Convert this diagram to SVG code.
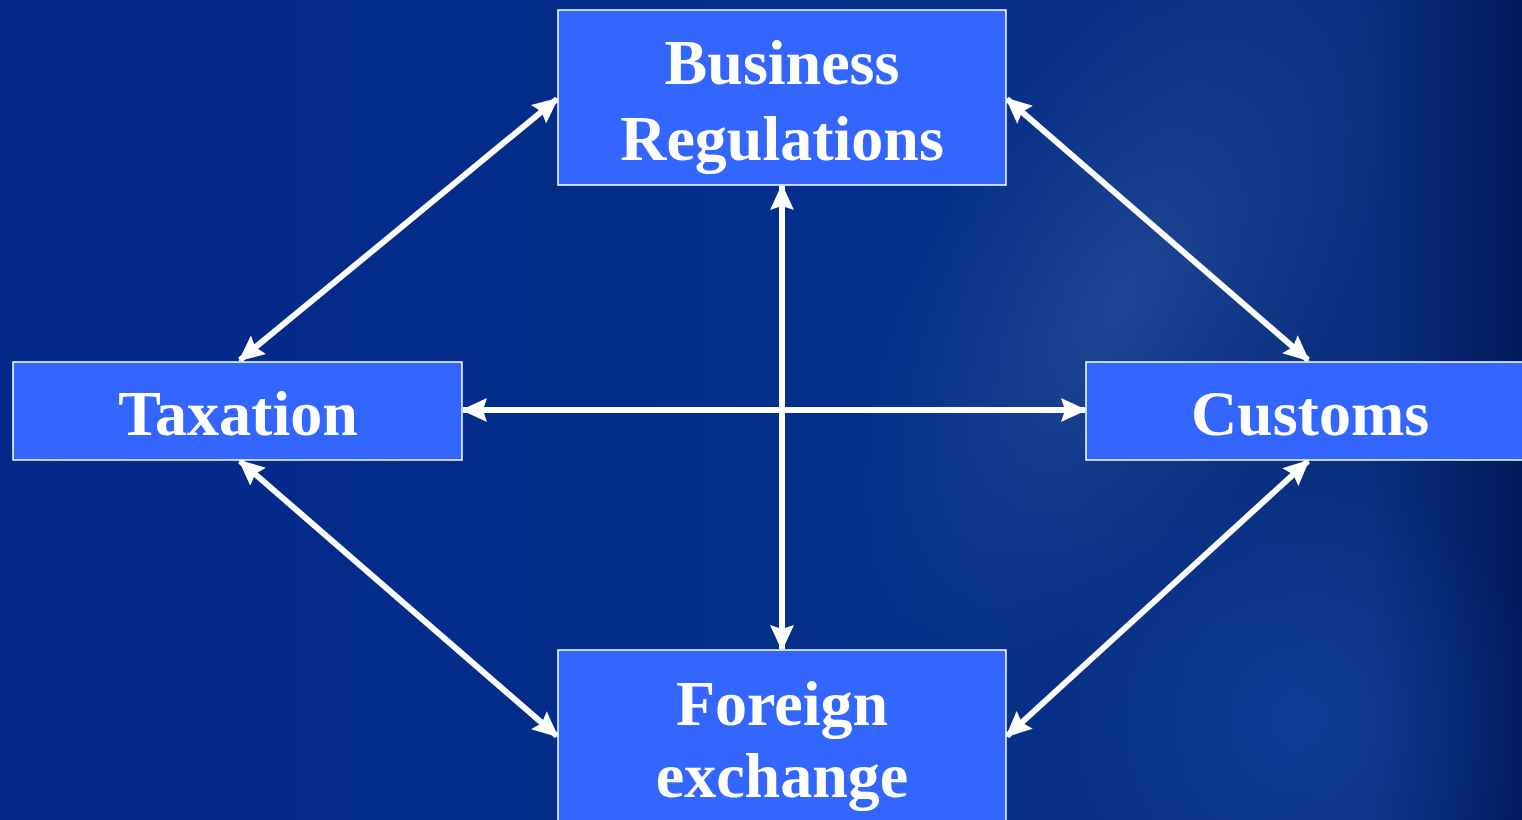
<svg xmlns="http://www.w3.org/2000/svg" width="1522" height="820" viewBox="0 0 1522 820">
<defs>
<linearGradient id="bg" x1="0" y1="0" x2="1" y2="0">
<stop offset="0" stop-color="#03288a"/>
<stop offset="0.55" stop-color="#042f8a"/>
<stop offset="0.9" stop-color="#0a2f7e"/>
<stop offset="1" stop-color="#011a5c"/>
</linearGradient>
<radialGradient id="glow" cx="1120" cy="300" r="420" gradientUnits="userSpaceOnUse" gradientTransform="translate(1120 300) rotate(-60) scale(1 0.5) translate(-1120 -300)">
<stop offset="0" stop-color="#3a62a8" stop-opacity="0.45"/>
<stop offset="0.5" stop-color="#3a62a8" stop-opacity="0.2"/>
<stop offset="1" stop-color="#3a62a8" stop-opacity="0"/>
</radialGradient>
<radialGradient id="glow2" cx="1300" cy="720" r="250" gradientUnits="userSpaceOnUse">
<stop offset="0" stop-color="#1a4bb0" stop-opacity="0.45"/>
<stop offset="1" stop-color="#1a4bb0" stop-opacity="0"/>
</radialGradient>
<marker id="ah" viewBox="0 0 26 24" refX="24" refY="12" markerWidth="26" markerHeight="24" markerUnits="userSpaceOnUse" orient="auto-start-reverse">
<path d="M0,0 L26,12 L0,24 L4,12 Z" fill="#ffffff"/>
</marker>
<style>
.box{fill:#3366ff;stroke:#ffffff;stroke-width:1.5}
.lbl{font-family:"Liberation Serif","Times New Roman",serif;font-weight:bold;font-size:64px;fill:#ffffff;text-anchor:middle}
.con{stroke:#ffffff;stroke-width:6;fill:none;marker-start:url(#ah);marker-end:url(#ah)}
</style>
</defs>
<rect width="1522" height="820" fill="url(#bg)"/>
<rect width="1522" height="820" fill="url(#glow)"/>
<rect width="1522" height="820" fill="url(#glow2)"/>
<g id="connectors">
<path class="con" d="M557,99 L240,360"/>
<path class="con" d="M1007,99 L1308,360"/>
<path class="con" d="M240,461 L557,736"/>
<path class="con" d="M1308,461 L1007,736"/>
<path class="con" d="M782,186 L782,649"/>
<path class="con" d="M463,410 L1085,410"/>
</g>
<g id="business">
<rect class="box" x="558" y="10" width="448" height="175"/>
<text class="lbl" x="782" y="84">Business</text>
<text class="lbl" x="782" y="160">Regulations</text>
</g>
<g id="taxation">
<rect class="box" x="13" y="362" width="449" height="98"/>
<text class="lbl" x="238" y="435">Taxation</text>
</g>
<g id="customs">
<rect class="box" x="1086" y="362" width="440" height="98"/>
<text class="lbl" x="1310" y="435">Customs</text>
</g>
<g id="foreign">
<rect class="box" x="558" y="650" width="448" height="175"/>
<text class="lbl" x="782" y="725">Foreign</text>
<text class="lbl" x="782" y="797">exchange</text>
</g>
</svg>
